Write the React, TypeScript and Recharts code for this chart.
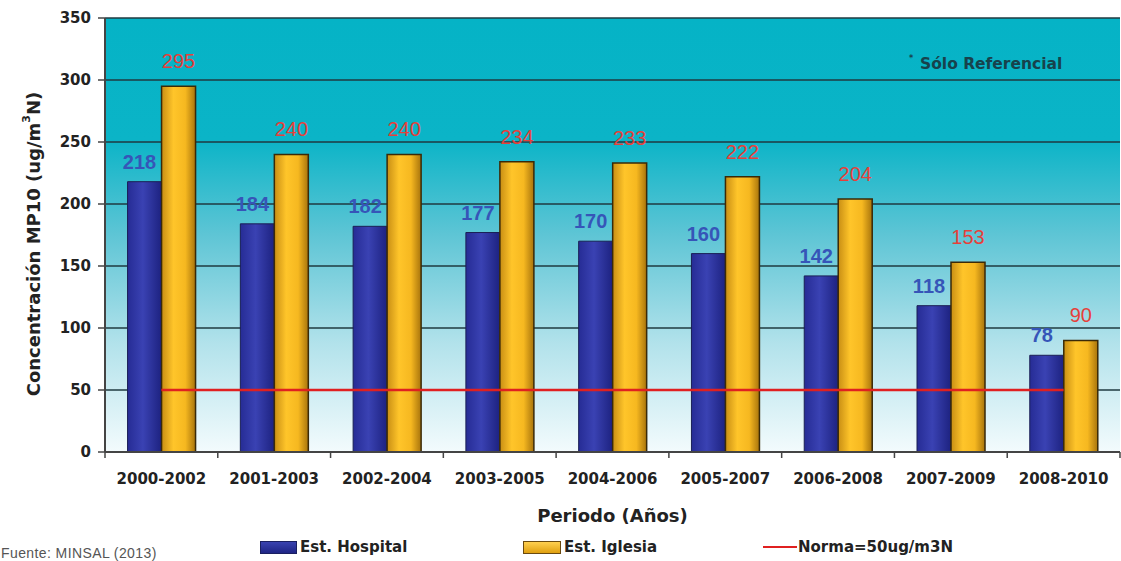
import {
  ComposedChart,
  Bar,
  Line,
  XAxis,
  YAxis,
  CartesianGrid,
  LabelList,
} from "recharts";

const periods = [
  "2000-2002",
  "2001-2003",
  "2002-2004",
  "2003-2005",
  "2004-2006",
  "2005-2007",
  "2006-2008",
  "2007-2009",
  "2008-2010",
];
const hospital = [218, 184, 182, 177, 170, 160, 142, 118, 78];
const iglesia = [295, 240, 240, 234, 233, 222, 204, 153, 90];
const norma = 50;
const yTicks = [0, 50, 100, 150, 200, 250, 300, 350];

const data = periods.map((p, i) => ({
  periodo: p,
  hospital: hospital[i],
  iglesia: iglesia[i],
  norma,
}));

const FONT = "'DejaVu Sans', Verdana, sans-serif";
const ARIAL = "'Liberation Sans', Arial, sans-serif";

// small boundary tick between categories, like the original
const XTick = (props: any) => {
  const { x, y, payload, index } = props;
  const step = 1015 / periods.length;
  return (
    <g>
      <line x1={x + step / 2} x2={x + step / 2} y1={y - 8} y2={y - 2} stroke="#444" strokeWidth={1.5} />
      {index === 0 && (
        <line x1={x - step / 2} x2={x - step / 2} y1={y - 8} y2={y - 2} stroke="#444" strokeWidth={1.5} />
      )}
      <text x={x} y={y + 24} textAnchor="middle" fontFamily={FONT} fontWeight="bold" fontSize={15} fill="#222">
        {payload.value}
      </text>
    </g>
  );
};

const YTitle = (props: any) => {
  const vb = props.viewBox || {};
  const cx = 33;
  const cy = vb.y + vb.height / 2 + 9;
  return (
    <text
      x={cx}
      y={cy}
      transform={`rotate(-90, ${cx}, ${cy})`}
      textAnchor="middle"
      dominantBaseline="central"
      fontFamily={FONT}
      fontWeight="bold"
      fontSize={18}
      fill="#222"
    >
      Concentración MP10 (ug/m<tspan dy={-7} fontSize={11}>3</tspan>
      <tspan dy={7}>N)</tspan>
    </text>
  );
};

const legendItem = { position: "absolute" as const, top: 0, display: "flex", alignItems: "center" };

export default function App() {
  return (
    <div style={{ position: "absolute", left: 0, top: 0, width: 1121, height: 561, background: "#fff", overflow: "hidden" }}>
      <ComposedChart
        width={1121}
        height={561}
        data={data}
        margin={{ top: 18, right: 1, bottom: 0, left: 0 }}
        barCategoryGap="20%"
        barGap={0}
      >
        <defs>
          <linearGradient id="bg" x1="0" y1="0" x2="0" y2="1">
            <stop offset="0%" stopColor="#05b3c6" />
            <stop offset="28%" stopColor="#0bb4c7" />
            <stop offset="50%" stopColor="#5ec5d5" />
            <stop offset="75%" stopColor="#b2e2eb" />
            <stop offset="100%" stopColor="#f3fbfd" />
          </linearGradient>
          <linearGradient id="blueBar" x1="0" y1="0" x2="1" y2="0">
            <stop offset="0%" stopColor="#262c95" />
            <stop offset="45%" stopColor="#3a42b3" />
            <stop offset="100%" stopColor="#1d2280" />
          </linearGradient>
          <linearGradient id="yellowBar" x1="0" y1="0" x2="1" y2="0">
            <stop offset="0%" stopColor="#c88e14" />
            <stop offset="35%" stopColor="#ffc52a" />
            <stop offset="70%" stopColor="#f6b820" />
            <stop offset="100%" stopColor="#a8740c" />
          </linearGradient>
        </defs>
        <CartesianGrid vertical={false} fill="url(#bg)" fillOpacity={1} stroke="#1f3a40" strokeWidth={1.5} />
        <XAxis
          dataKey="periodo"
          tick={<XTick />}
          tickLine={false}
          axisLine={{ stroke: "#444", strokeWidth: 2 }}
          interval={0}
          height={109}
          label={{
            value: "Periodo (Años)",
            position: "insideTop",
            offset: 57,
            style: { fontFamily: FONT, fontWeight: "bold", fontSize: 18, fill: "#222" },
          }}
        />
        <YAxis
          domain={[0, 350]}
          ticks={yTicks}
          width={105}
          tick={{ fontFamily: FONT, fontWeight: "bold", fontSize: 15, fill: "#222" }}
          tickLine={{ stroke: "#444", strokeWidth: 1.5 }}
          tickSize={7}
          tickMargin={7}
          axisLine={{ stroke: "#444", strokeWidth: 2 }}
          label={<YTitle />}
        />
        <YAxis yAxisId="r" orientation="right" width={0} tick={false} tickLine={false} axisLine={{ stroke: "#555", strokeWidth: 1.5 }} />
        <Bar dataKey="hospital" name="Est. Hospital" fill="url(#blueBar)" stroke="#1a1f55" strokeWidth={1} isAnimationActive={false}>
          <LabelList
            dataKey="hospital"
            position="top"
            offset={13}
            dx={-5}
            style={{ fontFamily: ARIAL, fontWeight: "bold", fontSize: 20, fill: "#3655b8" }}
          />
        </Bar>
        <Bar dataKey="iglesia" name="Est. Iglesia" fill="url(#yellowBar)" stroke="#3a2a08" strokeWidth={1.5} isAnimationActive={false}>
          <LabelList
            dataKey="iglesia"
            position="top"
            offset={18}
            style={{ fontFamily: ARIAL, fontSize: 20, fill: "#e6403a" }}
          />
        </Bar>
        <Line dataKey="norma" name="Norma=50ug/m3N" stroke="#e02020" strokeWidth={2.5} dot={false} activeDot={false} isAnimationActive={false} />
        <text x={909} y={61} fontFamily={FONT} fontWeight="bold" fontSize={8} fill="#17424c">*</text>
        <text x={920} y={69} fontFamily={FONT} fontWeight="bold" fontSize={15.5} fill="#17424c">
          Sólo Referencial
        </text>
      </ComposedChart>
      <div style={{ position: "absolute", left: 0, top: 538, width: 1121, height: 20, fontFamily: FONT, fontWeight: "bold", fontSize: 15, color: "#222" }}>
        <div style={{ ...legendItem, left: 260 }}>
          <span style={{ display: "inline-block", width: 35, height: 11, background: "linear-gradient(#3942b0,#1f2585)", border: "1px solid #1a1f60", marginRight: 3 }} />
          Est. Hospital
        </div>
        <div style={{ ...legendItem, left: 523 }}>
          <span style={{ display: "inline-block", width: 36, height: 11, background: "linear-gradient(#ffd050,#e0a010)", border: "1px solid #6a4a10", marginRight: 3 }} />
          Est. Iglesia
        </div>
        <div style={{ ...legendItem, left: 763 }}>
          <span style={{ display: "inline-block", width: 34, height: 2, background: "#e02020", marginRight: 1 }} />
          Norma=50ug/m3N
        </div>
      </div>
      <div style={{ position: "absolute", left: 1, top: 545, fontFamily: ARIAL, fontSize: 14, color: "#555", letterSpacing: 0.4 }}>
        Fuente: MINSAL (2013)
      </div>
    </div>
  );
}
